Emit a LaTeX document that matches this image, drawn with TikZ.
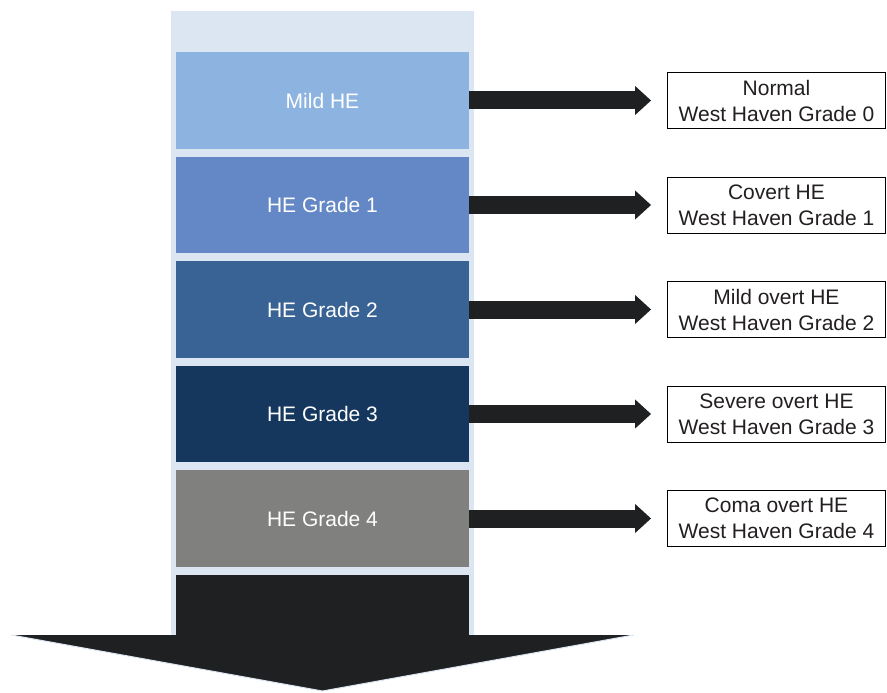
\documentclass[tikz,border=0pt]{standalone}
\usepackage{fontspec}
\setmainfont{Liberation Sans}
\usetikzlibrary{arrows.meta}
\definecolor{colbg}{HTML}{DCE6F2}
\definecolor{c0}{HTML}{8DB4E1}
\definecolor{c1}{HTML}{6388C5}
\definecolor{c2}{HTML}{386394}
\definecolor{c3}{HTML}{15375D}
\definecolor{c4}{HTML}{80807E}
\definecolor{ink}{HTML}{1F2022}
\definecolor{txt}{HTML}{231F20}
\begin{document}
\begin{tikzpicture}[x=1pt,y=-1pt,
 level/.style={rectangle, minimum width=293pt, minimum height=96.5pt, inner sep=0pt, text=white, font=\fontsize{21}{24}\selectfont},
 grade/.style={rectangle, draw=black, line width=0.8pt, fill=white, minimum width=218pt, minimum height=56pt, inner sep=0pt, align=center, text=txt, font=\fontsize{21}{26}\selectfont},
 fatarrow/.style={draw=ink, line width=18pt, -{Triangle[length=16pt,width=28pt]}, shorten >=16pt}]
\useasboundingbox (0,0) rectangle (887,693);
% background column
\fill[colbg] (171,11) rectangle (474,635);
% level boxes
\node[level, fill=c0] (l0) at (322.5,100.5) {Mild HE};
\node[level, fill=c1] (l1) at (322.5,205) {HE Grade 1};
\node[level, fill=c2] (l2) at (322.5,309.5) {HE Grade 2};
\node[level, fill=c3] (l3) at (322.5,414) {HE Grade 3};
\node[level, fill=c4] (l4) at (322.5,518.5) {HE Grade 4};
\node[rectangle, fill=ink, minimum width=293pt, minimum height=60pt, inner sep=0pt] (tail) at (322.5,605) {};
% big down arrow head
\fill[ink] (11.5,635) -- (633.5,635) -- (322.5,691) -- cycle;
\draw[colbg, line width=1pt] (11.5,635) -- (322.5,691) -- (633.5,635);
% grade boxes
\node[grade] (g0) at (776.5,100.5) {Normal\\West Haven Grade 0};
\node[grade] (g1) at (776.5,205) {Covert HE\\West Haven Grade 1};
\node[grade] (g2) at (776.5,309.5) {Mild overt HE\\West Haven Grade 2};
\node[grade] (g3) at (776.5,414) {Severe overt HE\\West Haven Grade 3};
\node[grade] (g4) at (776.5,518.5) {Coma overt HE\\West Haven Grade 4};
% arrows
\draw[fatarrow] (l0.east) -- (g0.west);
\draw[fatarrow] (l1.east) -- (g1.west);
\draw[fatarrow] (l2.east) -- (g2.west);
\draw[fatarrow] (l3.east) -- (g3.west);
\draw[fatarrow] (l4.east) -- (g4.west);
\end{tikzpicture}
\end{document}
